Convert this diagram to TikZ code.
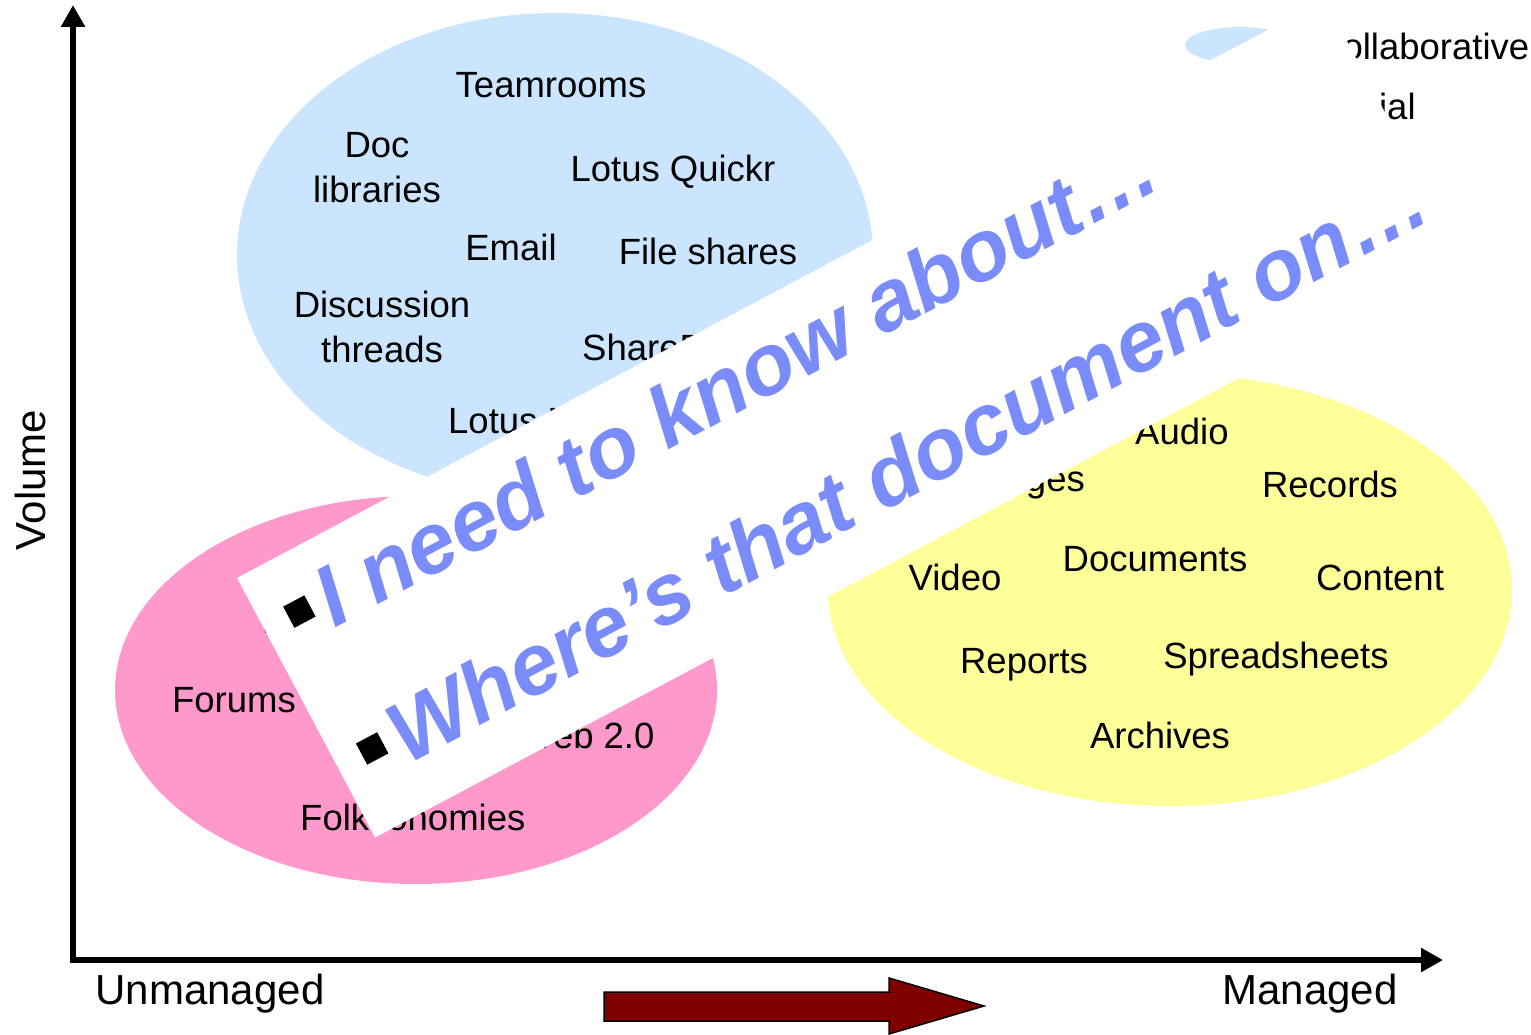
\documentclass[tikz,border=0pt]{standalone}
\usepackage{fontspec}
\setmainfont{Liberation Sans}
\usetikzlibrary{arrows.meta}
\definecolor{collabblue}{RGB}{204,229,255}
\definecolor{socialpink}{RGB}{255,153,204}
\definecolor{structyellow}{RGB}{255,255,153}
\definecolor{bannerblue}{RGB}{122,139,250}
\definecolor{arrowred}{RGB}{128,0,0}
\begin{document}
\begin{tikzpicture}[x=1pt,y=-1pt,
  lbl/.style={inner sep=0pt,font=\fontsize{36.5}{45}\selectfont,align=center},
  axlbl/.style={inner sep=0pt,font=\fontsize{42}{50}\selectfont},
  bigtxt/.style={inner sep=0pt,anchor=base west,text=bannerblue,
    font=\fontsize{86}{100}\selectfont\bfseries\itshape}]
\useasboundingbox (0,0) rectangle (1531,1035);
\clip (0,0) rectangle (1531,1035);
% the three groups
\fill[collabblue] (555,255) ellipse (318 and 242);
\fill[socialpink] (416,690) ellipse (301 and 194);
\fill[structyellow] (1170,590) ellipse (342 and 216);
% collaborative
\node[lbl,anchor=base] (teamrooms) at (551,98) {Teamrooms};
\node[lbl] (doclib) at (377,168) {Doc\\libraries};
\node[lbl,anchor=base] (quickr) at (673,182) {Lotus Quickr};
\node[lbl,anchor=base] (email) at (511,260) {Email};
\node[lbl,anchor=base] (fileshares) at (708,264) {File shares};
\node[lbl] (threads) at (382,327) {Discussion\\threads};
\node[lbl,anchor=base west] (sharepoint) at (582,360) {SharePoint};
\node[lbl,anchor=base west] (notes) at (448,433) {Lotus Notes};
% social
\node[lbl,anchor=base west] (wikis) at (258,633) {Wikis};
\node[lbl,anchor=base] (forums) at (234,712) {Forums};
\node[lbl,anchor=base west] (web) at (519,748) {Web 2.0};
\node[lbl,anchor=base west] (folk) at (300,830) {Folksonomies};
% structured
\node[lbl,anchor=base west] (audio) at (1135,444) {Audio};
\node[lbl,anchor=base east] (images) at (1085,491) {Images};
\node[lbl,anchor=base] (records) at (1330,497) {Records};
\node[lbl,anchor=base] (video) at (955,590) {Video};
\node[lbl,anchor=base] (documents) at (1155,571) {Documents};
\node[lbl,anchor=base] (content) at (1380,590) {Content};
\node[lbl,anchor=base] (reports) at (1024,673) {Reports};
\node[lbl,anchor=base] (sheets) at (1276,668) {Spreadsheets};
\node[lbl,anchor=base] (archives) at (1160,748) {Archives};
% legend
\fill[collabblue] (1240,45) ellipse (55 and 18);
\node[lbl,anchor=base west] (legcollab) at (1316,60) {Collaborative};
\node[lbl,anchor=base west] (legsocial) at (1316,120) {Social};
% banner
\begin{scope}[shift={(850,418.5)},rotate=28,transform shape]
\fill[white] (-616,-147) rectangle (616,147);
\node[bigtxt] (askone) at (-589,-57) {{\color{black}\rule[19pt]{24pt}{24pt}}\hspace{11pt}I need to know about…};
\node[bigtxt] (asktwo) at (-589,98) {{\color{black}\rule[19pt]{24pt}{24pt}}\hspace{11pt}Where’s that document on…};
\end{scope}
% axes
\draw[line width=6pt,miter limit=10,{Triangle[length=22pt,width=23pt]}-{Triangle[length=22pt,width=23pt]}] (73,5) -- (73,960) -- (1443,960);
\node[axlbl,rotate=90] (volume) at (30,480) {Volume};
\node[axlbl,anchor=base] (unmanaged) at (210,1004) {Unmanaged};
\node[axlbl,anchor=base] (managed) at (1310,1004) {Managed};
\draw[fill=arrowred,draw=black,line width=1.5pt] (604,992) -- (889,992) -- (889,978) -- (984,1006) -- (889,1034) -- (889,1021) -- (604,1021) -- cycle;
\end{tikzpicture}
\end{document}
